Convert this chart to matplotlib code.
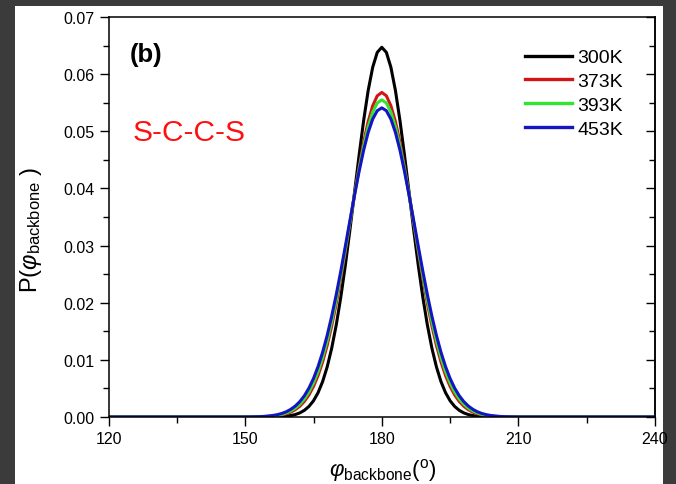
import matplotlib
matplotlib.use("Agg")
import matplotlib.pyplot as plt
from matplotlib.patches import Rectangle
from matplotlib.ticker import MultipleLocator, FormatStrFormatter, NullFormatter

plt.rcParams['font.family'] = ['Liberation Sans', 'DejaVu Sans']
plt.rcParams['mathtext.fontset'] = 'custom'
plt.rcParams['mathtext.rm'] = 'Liberation Sans'
plt.rcParams['mathtext.it'] = 'Liberation Sans:italic'
plt.rcParams['mathtext.bf'] = 'Liberation Sans:bold'

# angle grid (degrees): 120, 145..215, 240
angle = [120] + list(range(145, 216)) + [240]

p_300K = [0.0,
          0, 0, 0, 0, 0, 0, 0, 0, 0, 0,
          0.00001, 0.00002, 0.00004, 0.00008, 0.00014, 0.00025, 0.00043, 0.00072, 0.00117, 0.00185,
          0.00284, 0.00425, 0.00619, 0.00876, 0.01205, 0.01613, 0.02100, 0.02660, 0.03276, 0.03924,
          0.04572, 0.05181, 0.05710, 0.06120, 0.06381,
          0.06470,
          0.06381, 0.06120, 0.05710, 0.05181, 0.04572,
          0.03924, 0.03276, 0.02660, 0.02100, 0.01613, 0.01205, 0.00876, 0.00619, 0.00425, 0.00284,
          0.00185, 0.00117, 0.00072, 0.00043, 0.00025, 0.00014, 0.00008, 0.00004, 0.00002, 0.00001,
          0, 0, 0, 0, 0, 0, 0, 0, 0, 0,
          0.0]

p_373K = [0.0,
          0, 0, 0, 0, 0, 0, 0.00001, 0.00002, 0.00003, 0.00005,
          0.00008, 0.00013, 0.00022, 0.00035, 0.00055, 0.00085, 0.00128, 0.00189, 0.00273, 0.00386,
          0.00535, 0.00725, 0.00963, 0.01252, 0.01594, 0.01987, 0.02426, 0.02900, 0.03395, 0.03892,
          0.04369, 0.04802, 0.05168, 0.05446, 0.05621,
          0.05680,
          0.05621, 0.05446, 0.05168, 0.04802, 0.04369,
          0.03892, 0.03395, 0.02900, 0.02426, 0.01987, 0.01594, 0.01252, 0.00963, 0.00725, 0.00535,
          0.00386, 0.00273, 0.00189, 0.00128, 0.00085, 0.00055, 0.00035, 0.00022, 0.00013, 0.00008,
          0.00005, 0.00003, 0.00002, 0.00001, 0, 0, 0, 0, 0, 0,
          0.0]

p_393K = [0.0,
          0, 0, 0, 0, 0, 0.00001, 0.00001, 0.00002, 0.00004, 0.00007,
          0.00011, 0.00018, 0.00029, 0.00046, 0.00070, 0.00105, 0.00155, 0.00223, 0.00316, 0.00438,
          0.00596, 0.00794, 0.01038, 0.01331, 0.01671, 0.02059, 0.02485, 0.02942, 0.03414, 0.03883,
          0.04331, 0.04736, 0.05076, 0.05334, 0.05495,
          0.05550,
          0.05495, 0.05334, 0.05076, 0.04736, 0.04331,
          0.03883, 0.03414, 0.02942, 0.02485, 0.02059, 0.01671, 0.01331, 0.01038, 0.00794, 0.00596,
          0.00438, 0.00316, 0.00223, 0.00155, 0.00105, 0.00070, 0.00046, 0.00029, 0.00018, 0.00011,
          0.00007, 0.00004, 0.00002, 0.00001, 0.00001, 0, 0, 0, 0, 0,
          0.0]

p_453K = [0.0,
          0, 0, 0, 0, 0, 0.00001, 0.00002, 0.00004, 0.00006, 0.00010,
          0.00017, 0.00026, 0.00040, 0.00061, 0.00091, 0.00134, 0.00192, 0.00270, 0.00373, 0.00506,
          0.00674, 0.00882, 0.01132, 0.01427, 0.01766, 0.02144, 0.02556, 0.02992, 0.03437, 0.03877,
          0.04292, 0.04665, 0.04978, 0.05213, 0.05360,
          0.05410,
          0.05360, 0.05213, 0.04978, 0.04665, 0.04292,
          0.03877, 0.03437, 0.02992, 0.02556, 0.02144, 0.01766, 0.01427, 0.01132, 0.00882, 0.00674,
          0.00506, 0.00373, 0.00270, 0.00192, 0.00134, 0.00091, 0.00061, 0.00040, 0.00026, 0.00017,
          0.00010, 0.00006, 0.00004, 0.00002, 0.00001, 0, 0, 0, 0, 0,
          0.0]

labels = ['300K', '373K', '393K', '453K']
series = [p_300K, p_373K, p_393K, p_453K]
colors = ['#000000', '#d41414', '#2fe62f', '#1414c4']

W, H = 676, 485
fig = plt.figure(figsize=(W / 100, H / 100), dpi=100)
fig.patch.set_facecolor('#3b3b3b')
fig.add_artist(Rectangle((15 / W, 0), (663 - 15) / W, (H - 7) / H,
                         transform=fig.transFigure, facecolor='white',
                         edgecolor='none', zorder=0))

ax = fig.add_axes([108.6 / W, (H - 418) / H, (655 - 108.6) / W, 400 / H])
ax.set_facecolor('white')

for y, c, lab in zip(series, colors, labels):
    ax.plot(angle, y, color=c, lw=2.2, label=lab, solid_joinstyle='round')

ax.set_xlim(120, 240)
ax.set_ylim(0, 0.07)
ax.xaxis.set_major_locator(MultipleLocator(30))
ax.xaxis.set_minor_locator(MultipleLocator(15))
ax.yaxis.set_major_locator(MultipleLocator(0.01))
ax.yaxis.set_minor_locator(MultipleLocator(0.005))
ax.yaxis.set_major_formatter(FormatStrFormatter('%.2f'))

for s in ax.spines.values():
    s.set_linewidth(1.1)
ax.tick_params(axis='both', which='both', direction='out', width=1.0,
               labelsize=11.5, right=False, top=False)
ax.tick_params(which='major', length=6.5)
ax.tick_params(which='minor', length=4)

sec = ax.secondary_yaxis('right')
sec.yaxis.set_major_locator(MultipleLocator(0.01))
sec.yaxis.set_minor_locator(MultipleLocator(0.005))
sec.yaxis.set_major_formatter(NullFormatter())
sec.spines['right'].set_linewidth(1.1)
sec.tick_params(which='both', direction='in', width=1.0)
sec.tick_params(which='major', length=6.5)
sec.tick_params(which='minor', length=4)

ax.set_xlabel(r'$φ_{\mathrm{backbone}}(^{\mathrm{o}})$', fontsize=16)
ax.xaxis.set_label_coords(0.501, -0.098)
ax.set_ylabel(r'P($φ_{\mathrm{backbone}}$ )', fontsize=17)
ax.yaxis.set_label_coords(-0.118, 0.47)

ax.text(0.039, 0.9075, '(b)', transform=ax.transAxes, fontsize=18.5,
        fontweight='bold', va='center', ha='left')
ax.text(0.043, 0.7125, 'S-C-C-S', transform=ax.transAxes, fontsize=21.5,
        color='#ff1010', va='center', ha='left')

leg = ax.legend(loc='upper right', bbox_to_anchor=(0.956, 0.94), frameon=False,
                fontsize=14, handlelength=2.42, handletextpad=0.26,
                labelspacing=0.32, borderaxespad=0)
for l in leg.get_lines():
    l.set_linewidth(2.4)

fig.savefig('out.png', dpi=100, facecolor=fig.get_facecolor())
